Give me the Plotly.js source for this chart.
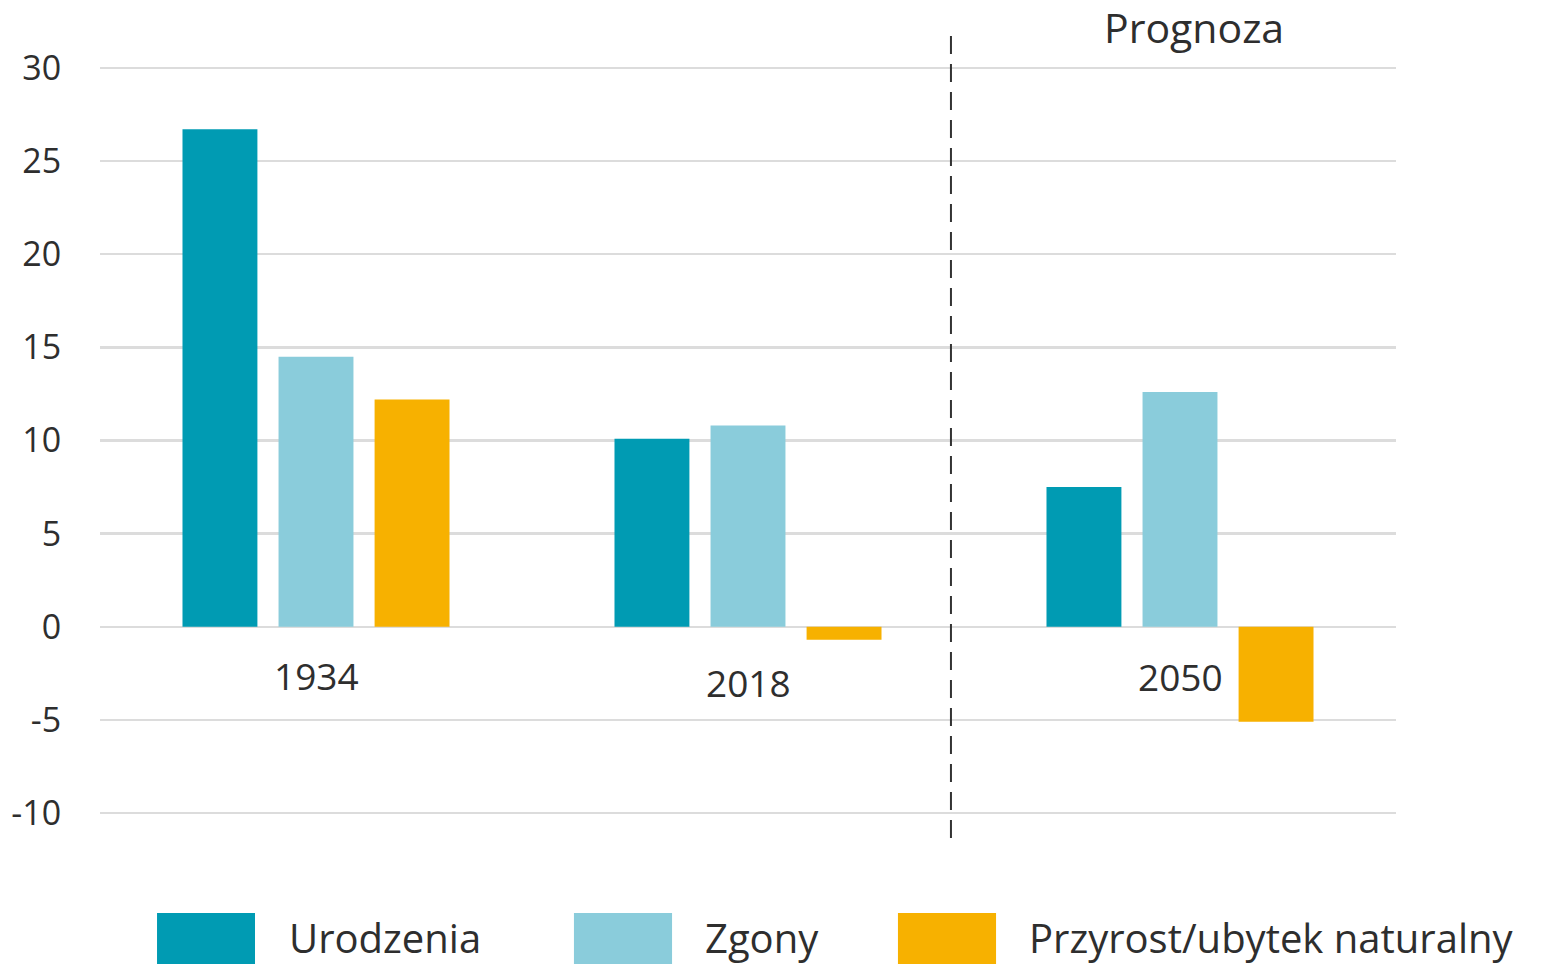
<!DOCTYPE html>
<html>
<head>
<meta charset="utf-8">
<script src="https://cdn.plot.ly/plotly-3.0.1.min.js"></script>
<style>html,body{margin:0;padding:0;background:#fff;}#chart{width:1550px;height:966px;}</style>
</head>
<body>
<div id="chart"></div>
<script>
const years = ['1934', '2018', '2050'];
const seriesNames = ['Urodzenia', 'Zgony', 'Przyrost/ubytek naturalny'];
const urodzenia = [26.7, 10.1, 7.5];
const zgony = [14.5, 10.8, 12.6];
const przyrost = [12.2, -0.7, -5.1];
const yTicks = [-10, -5, 0, 5, 10, 15, 20, 25, 30];
const forecastLabel = 'Prognoza';
const labelY = [-2.6, -3.0, -2.65];

const colors = ['#009BB3', '#8ACCDB', '#F7B100'];
const values = [urodzenia, zgony, przyrost];
const font = 'Open Sans, sans-serif';
const textColor = '#2e2e2e';

const traces = values.map((v, i) => ({
  type: 'bar',
  x: years,
  y: v,
  name: seriesNames[i],
  marker: {color: colors[i]},
  showlegend: false,
  hoverinfo: 'y+name'
}));

const annotations = years.map((yr, i) => ({
  x: i, y: labelY[i], xref: 'x', yref: 'y',
  text: yr, showarrow: false,
  font: {family: font, size: 37, color: textColor},
  xanchor: 'center', yanchor: 'middle'
}));

annotations.push({
  x: 0.844, y: 1.052, xref: 'paper', yref: 'paper',
  text: forecastLabel, showarrow: false,
  font: {family: font, size: 41, color: textColor},
  xanchor: 'center', yanchor: 'middle'
});

const legendBoxes = [[0.044, 0.1196], [0.3657, 0.4414], [0.6157, 0.6914]];
const legendTextX = [0.1443, 0.4653, 0.7153];
const shapes = [{
  type: 'line', xref: 'paper', yref: 'paper',
  x0: 0.6566, x1: 0.6566, y0: -0.0307, y1: 1.048,
  line: {color: '#333333', width: 2, dash: '18px,10px'}
}];
seriesNames.forEach((n, i) => {
  shapes.push({
    type: 'rect', xref: 'paper', yref: 'paper',
    x0: legendBoxes[i][0], x1: legendBoxes[i][1], y0: -0.1989, y1: -0.1308,
    fillcolor: colors[i], line: {width: 0}
  });
  annotations.push({
    x: legendTextX[i], y: -0.1629, xref: 'paper', yref: 'paper',
    text: n, showarrow: false,
    font: {family: font, size: 40, color: textColor},
    xanchor: 'left', yanchor: 'middle'
  });
});

const layout = {
  width: 1550, height: 966,
  margin: {l: 100, r: 154, t: 66, b: 151},
  paper_bgcolor: '#ffffff', plot_bgcolor: '#ffffff',
  barmode: 'group', bargap: 0.333, bargroupgap: 0.22,
  xaxis: {
    type: 'category', range: [-0.5, 2.5],
    showticklabels: false, showgrid: false, zeroline: false, showline: false, ticks: ''
  },
  yaxis: {
    range: [-10.1, 30.1], tickvals: yTicks, ticktext: yTicks.map(String),
    showgrid: true, gridcolor: '#dcdcdc', gridwidth: 2.5,
    zeroline: true, zerolinecolor: '#dcdcdc', zerolinewidth: 2.5,
    showline: false, ticks: 'outside', ticklen: 31, tickcolor: 'rgba(0,0,0,0)',
    tickfont: {family: font, size: 34, color: textColor}
  },
  shapes: shapes,
  annotations: annotations,
  showlegend: false
};

Plotly.newPlot('chart', traces, layout, {displayModeBar: false, staticPlot: true});
</script>
</body>
</html>
